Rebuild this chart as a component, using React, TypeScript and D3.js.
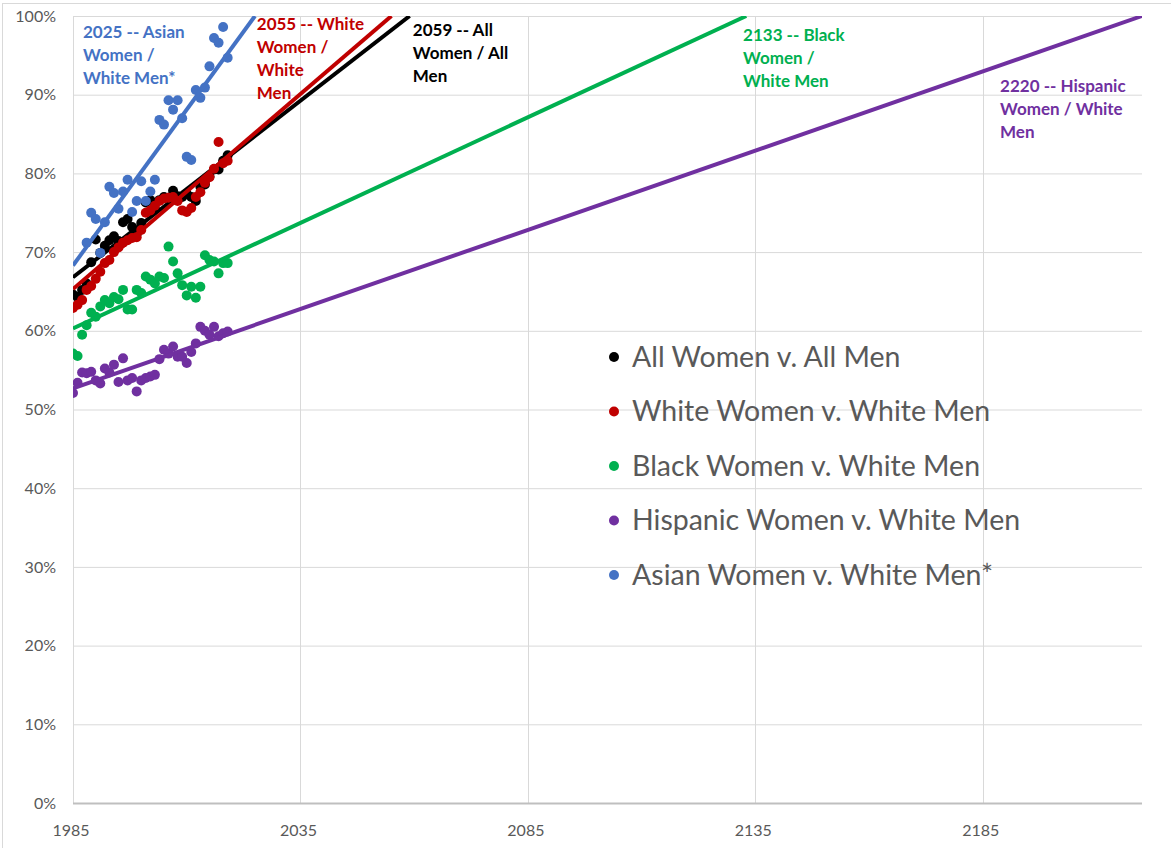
import React, { useEffect, useRef } from 'react';
import * as d3 from 'd3';

// years for the annual series
const years = d3.range(1985, 2020);
const asianYears = d3.range(1988, 2020);

// women's earnings as share of men's (%)
const allWomen = [64.6, 64.3, 65.2, 66.0, 68.7, 71.6, 69.9, 70.8, 71.5, 72.0, 71.4, 73.8, 74.2, 73.2, 72.3, 73.7, 76.3, 76.6, 75.5, 76.6, 77.0, 76.9, 77.8, 77.1, 77.0, 77.4, 77.0, 76.5, 78.3, 78.6, 79.6, 80.5, 80.5, 81.6, 82.3];
const whiteWomen = [62.9, 63.3, 63.9, 65.2, 65.7, 66.6, 67.5, 68.6, 69.0, 70.0, 70.6, 71.2, 71.5, 71.8, 71.9, 72.8, 75.0, 75.3, 75.9, 76.5, 76.8, 76.9, 77.0, 76.5, 75.3, 75.1, 75.6, 77.0, 77.6, 78.8, 79.5, 80.6, 84.0, 81.3, 81.6];
const blackWomen = [57.1, 56.8, 59.5, 60.7, 62.3, 61.8, 63.1, 63.9, 63.5, 64.3, 64.0, 65.2, 62.7, 62.7, 65.2, 64.8, 66.9, 66.5, 66.0, 66.9, 66.7, 70.7, 68.8, 67.3, 65.8, 64.5, 65.6, 64.2, 65.6, 69.6, 69.0, 68.8, 67.3, 68.6, 68.6];
const hispanicWomen = [52.1, 53.4, 54.7, 54.6, 54.8, 53.7, 53.3, 55.2, 54.7, 55.7, 53.5, 56.5, 53.7, 54.0, 52.3, 53.7, 54.0, 54.2, 54.4, 56.4, 57.6, 57.1, 58.0, 56.7, 56.7, 55.9, 57.3, 58.4, 60.5, 60.0, 59.5, 60.5, 59.3, 59.7, 59.9];
const asianWomen = [71.2, 75.0, 74.2, 69.9, 73.8, 78.3, 77.5, 75.5, 77.7, 79.2, 75.1, 76.5, 79.0, 76.5, 77.7, 79.2, 86.8, 86.2, 89.3, 88.1, 89.3, 87.0, 82.1, 81.7, 90.6, 89.6, 90.9, 93.6, 97.2, 96.6, 98.6, 94.7];

const seriesNames = ['All Women v. All Men', 'White Women v. White Men', 'Black Women v. White Men', 'Hispanic Women v. White Men', 'Asian Women v. White Men*'];
const seriesColors = ['#000000', '#C00000', '#00B050', '#7030A0', '#4472C4'];

// linear trend: value at 1985 and the year it reaches parity
const trendStart = [66.8, 65.3, 60.3, 52.7, 68.3];
const parityYear = [2059, 2055, 2133, 2220, 2025];

const noteLines = [
  ['2059 -- All', 'Women / All', 'Men'],
  ['2055 -- White', 'Women /', 'White', 'Men'],
  ['2133 -- Black', 'Women /', 'White Men'],
  ['2220 -- Hispanic', 'Women / White', 'Men'],
  ['2025 -- Asian', 'Women /', 'White Men*'],
];
// anchor (year, %) of each note's first line
const noteYear = [2059.7, 2025.4, 2132.3, 2188.8, 1987.2];
const noteValue = [98.2, 99.0, 97.6, 91.1, 98.0];

const xTicks = [1985, 2035, 2085, 2135, 2185];
const yTicks = d3.range(0, 101, 10);

export default function App() {
  const svgRef = useRef<SVGSVGElement>(null);

  useEffect(() => {
    const svg = d3.select(svgRef.current);
    svg.selectAll('*').remove();

    const width = 1171;
    const height = 848;
    const margin = { top: 16, right: 29, bottom: 45, left: 73 };
    const font = 'Lato, "Open Sans", sans-serif';

    const x = d3.scaleLinear().domain([1985, 2220]).range([margin.left, width - margin.right]);
    const y = d3.scaleLinear().domain([0, 100]).range([height - margin.bottom, margin.top]);

    // chart frame
    svg.append('rect')
      .attr('x', 2.5).attr('y', 3.5)
      .attr('width', width - 2).attr('height', height)
      .attr('fill', '#fff').attr('stroke', '#d9d9d9');

    // grid
    svg.append('g')
      .selectAll('line')
      .data(yTicks.slice(1))
      .join('line')
      .attr('x1', x(1985)).attr('x2', x(2220))
      .attr('y1', d => y(d) + 0.5).attr('y2', d => y(d) + 0.5)
      .attr('stroke', '#d9d9d9');

    svg.append('g')
      .selectAll('line')
      .data(xTicks)
      .join('line')
      .attr('x1', d => Math.round(x(d)) + 0.5).attr('x2', d => Math.round(x(d)) + 0.5)
      .attr('y1', y(100)).attr('y2', y(0))
      .attr('stroke', '#d9d9d9');

    // x axis line
    svg.append('line')
      .attr('x1', x(1985)).attr('x2', x(2220))
      .attr('y1', y(0) + 0.5).attr('y2', y(0) + 0.5)
      .attr('stroke', '#bfbfbf').attr('stroke-width', 2);

    // tick labels
    svg.append('g')
      .selectAll('text')
      .data(yTicks)
      .join('text')
      .attr('x', margin.left - 17)
      .attr('y', d => y(d))
      .attr('dy', '0.35em')
      .attr('text-anchor', 'end')
      .style('font-family', font)
      .style('font-size', '16px')
      .style('fill', '#595959')
      .text(d => `${d}%`);

    svg.append('g')
      .selectAll('text')
      .data(xTicks)
      .join('text')
      .attr('x', d => x(d) - 2)
      .attr('y', y(0) + 27)
      .attr('dy', '0.35em')
      .attr('text-anchor', 'middle')
      .style('font-family', font)
      .style('font-size', '16px')
      .style('fill', '#595959')
      .text(d => d);

    const allSeries = [
      { yrs: years, vals: allWomen },
      { yrs: years, vals: whiteWomen },
      { yrs: years, vals: blackWomen },
      { yrs: years, vals: hispanicWomen },
      { yrs: asianYears, vals: asianWomen },
    ];

    svg.append('clipPath').attr('id', 'plot-clip')
      .append('rect')
      .attr('x', x(1985)).attr('y', y(100))
      .attr('width', x(2220) - x(1985)).attr('height', y(0) - y(100));

    const plot = svg.append('g').attr('clip-path', 'url(#plot-clip)');

    allSeries.forEach((s, i) => {
      const g = plot.append('g');
      g.selectAll('circle')
        .data(s.vals.map((v, j) => ({ yr: s.yrs[j], v })))
        .join('circle')
        .attr('cx', d => x(d.yr))
        .attr('cy', d => y(d.v))
        .attr('r', 5)
        .attr('fill', seriesColors[i]);

      const line = d3.line<number[]>().x(d => x(d[0])).y(d => y(d[1]));
      g.append('path')
        .datum([[1985, trendStart[i]], [parityYear[i], 100]])
        .attr('d', line)
        .attr('stroke', seriesColors[i])
        .attr('stroke-width', 4)
        .attr('fill', 'none');
    });

    // annotations
    noteLines.forEach((lines, i) => {
      const t = svg.append('text')
        .attr('x', x(noteYear[i]))
        .attr('y', y(noteValue[i]))
        .style('font-family', font)
        .style('font-size', '17px')
        .style('font-weight', 'bold')
        .style('fill', seriesColors[i]);
      lines.forEach((ln, k) => {
        t.append('tspan')
          .attr('x', x(noteYear[i]))
          .attr('dy', k === 0 ? '0.35em' : 23)
          .text(ln);
      });
    });

    // legend
    const legend = svg.append('g').attr('transform', 'translate(614,357)');
    seriesNames.forEach((name, i) => {
      const row = legend.append('g').attr('transform', `translate(0,${i * 54.5})`);
      row.append('circle').attr('r', 5).attr('fill', seriesColors[i]);
      row.append('text')
        .attr('x', 18)
        .attr('dy', '0.35em')
        .style('font-family', font)
        .style('font-size', '28.5px')
        .style('fill', '#595959')
        .text(name);
    });
  }, []);

  return (
    <div style={{ position: 'absolute', left: 0, top: 0 }}>
      <svg ref={svgRef} width={1171} height={848}></svg>
    </div>
  );
}
